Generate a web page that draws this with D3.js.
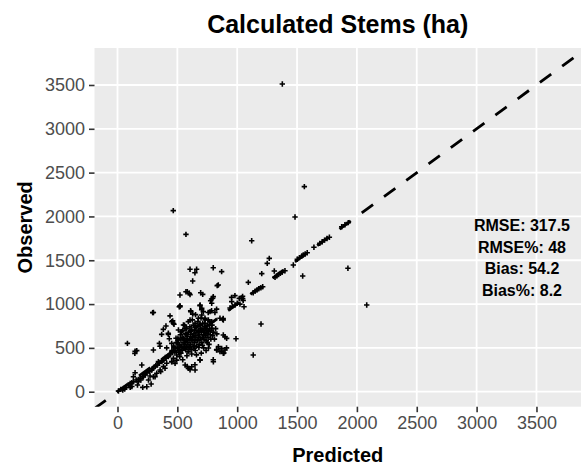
<!DOCTYPE html>
<html>
<head>
<meta charset="utf-8">
<script src="https://cdn.jsdelivr.net/npm/d3@7"></script>
<style>
  body { margin: 0; background: #fff; }
  svg { display: block; font-family: "Liberation Sans", Arial, sans-serif; }
</style>
</head>
<body>
<div id="chart"></div>
<script>
const xTicks = [0, 500, 1000, 1500, 2000, 2500, 3000, 3500];
const yTicks = [0, 500, 1000, 1500, 2000, 2500, 3000, 3500];
const statLines = ['RMSE: 317.5', 'RMSE%: 48', 'Bias: 54.2', 'Bias%: 8.2'];

// [predicted, observed]
const outliers = [
  [1377, 3511], [466, 2066], [572, 1795], [1121, 1722], [1483, 1994], [1561, 2340],
  [1925, 1408], [2082, 990], [1547, 1320], [1469, 1446], [1268, 1522], [1251, 1465],
  [1205, 1347], [1310, 1377], [1093, 1248], [1046, 1061], [1057, 970], [1199, 773],
  [1134, 419], [990, 605]
];
const nearLine = [
  [940, 955], [954, 1028], [960, 975], [982, 990], [1000, 1010], [1023, 1000], [1037, 1070],
  [1050, 1040], [953, 1077], [981, 1096], [1017, 1065], [1045, 1088],
  [1134, 1130], [1150, 1148], [1165, 1160], [1180, 1175], [1198, 1185], [1213, 1198],
  [1316, 1305], [1330, 1322], [1345, 1338], [1360, 1350], [1375, 1362], [1399, 1381],
  [1502, 1511], [1520, 1530], [1540, 1548], [1552, 1560], [1568, 1572], [1585, 1586],
  [1641, 1648], [1690, 1693], [1710, 1712], [1730, 1730], [1750, 1748], [1770, 1762],
  [1873, 1883], [1900, 1905], [1928, 1929]
];
const lowBand = [
  [8, 8], [28, 27], [50, 38], [72, 50], [92, 76], [106, 95], [120, 103], [133, 114],
  [156, 133], [175, 141], [189, 152], [211, 171], [231, 191], [245, 217], [267, 229],
  [286, 248], [300, 267], [314, 286], [334, 305], [350, 324], [370, 343], [384, 362],
  [406, 381], [425, 400], [439, 430], [461, 446], [481, 469], [500, 495], [517, 522],
  [83, 552], [161, 469], [145, 438], [300, 476], [350, 552], [203, 305], [147, 217],
  [133, 171], [217, 171], [195, 133], [175, 114], [281, 88], [245, 57], [211, 50],
  [44, 19], [106, 50], [167, 76], [259, 133], [314, 171], [328, 210], [356, 248],
  [384, 286], [342, 343], [411, 324], [397, 267], [453, 343], [467, 381], [495, 419],
  [453, 552], [489, 610], [425, 667], [509, 591], [361, 229], [300, 171], [272, 179],
  [355, 519], [411, 500], [369, 654], [425, 654], [433, 604], [383, 711], [405, 750],
  [300, 904], [439, 865], [461, 808], [472, 769], [147, 461], [60, 30], [120, 60],
  [230, 205], [260, 240], [290, 262], [320, 300], [345, 330], [375, 355], [400, 390],
  [430, 415], [455, 455]
];
const core = [
  [455, 470], [470, 520], [480, 455], [490, 560], [500, 500], [505, 610], [510, 450],
  [515, 540], [520, 480], [525, 650], [530, 590], [535, 520], [540, 470], [545, 700],
  [548, 560], [552, 610], [556, 500], [560, 760], [563, 540], [567, 660], [570, 480],
  [574, 590], [578, 720], [580, 520], [585, 630], [588, 560], [592, 800], [595, 680],
  [598, 500], [602, 600], [605, 740], [608, 540], [612, 650], [615, 480], [618, 700],
  [622, 580], [625, 820], [628, 620], [632, 520], [635, 760], [638, 660], [642, 560],
  [645, 700], [648, 600], [652, 880], [655, 640], [658, 520], [662, 740], [665, 680],
  [668, 580], [672, 800], [675, 620], [678, 700], [682, 540], [685, 760], [688, 650],
  [692, 600], [695, 720], [698, 840], [702, 680], [705, 560], [708, 620], [712, 780],
  [715, 700], [718, 650], [722, 600], [725, 740], [728, 680], [732, 820], [735, 640],
  [738, 720], [742, 580], [745, 700], [748, 660], [752, 760], [756, 620], [760, 690],
  [765, 540], [770, 720], [775, 650], [780, 600], [785, 700], [790, 760], [795, 640],
  [800, 680], [810, 600], [820, 720], [830, 660], [470, 500], [520, 505], [560, 498],
  [600, 502], [640, 498], [680, 505], [720, 500], [760, 498], [540, 620], [575, 650],
  [610, 690], [650, 730], [690, 770], [730, 780], [770, 800], [530, 440], [590, 455],
  [650, 470], [710, 530], [750, 560], [500, 560], [560, 590]
];
const coreLow = [
  [520, 400], [545, 365], [565, 305], [592, 266], [620, 285], [648, 247], [606, 250],
  [583, 288], [647, 308], [690, 361], [801, 342], [689, 365], [800, 365], [828, 480],
  [870, 461], [889, 442], [911, 500], [829, 476], [856, 457], [884, 438], [898, 476],
  [843, 514], [870, 495], [453, 342], [481, 323], [495, 361], [660, 420], [700, 440],
  [740, 470], [620, 430], [580, 410]
];
const coreHigh = [
  [612, 914], [690, 990], [704, 952], [717, 914], [773, 914], [787, 1009], [453, 800],
  [467, 781], [551, 761], [606, 819], [648, 781], [676, 838], [704, 876], [731, 838],
  [759, 819], [787, 800], [856, 838], [884, 819], [509, 704], [537, 685], [565, 723],
  [620, 704], [676, 685], [704, 704], [759, 685], [787, 723], [884, 647], [912, 609],
  [898, 628], [611, 923], [628, 885], [689, 981], [703, 935], [758, 904], [786, 923],
  [828, 942], [814, 904], [883, 835], [523, 971], [606, 1397], [661, 1397], [647, 1358],
  [628, 1263], [572, 1141], [600, 1123], [522, 1103], [695, 1130], [712, 1111],
  [842, 1218], [795, 1066], [778, 1038], [516, 970], [294, 902], [800, 1415], [870, 1370],
  [833, 1211], [583, 1142], [606, 1108], [786, 1058], [800, 1085], [879, 826], [522, 981]
];
const points = [...outliers, ...nearLine, ...lowBand, ...core, ...coreLow, ...coreHigh];

const W = 581, H = 467;
const m = { left: 94.5, right: 0, top: 48, bottom: 60.3 };

const svg = d3.select('#chart').append('svg').attr('width', W).attr('height', H);

const x = d3.scaleLinear().domain([-192, 3872]).range([m.left, W - m.right]);
const y = d3.scaleLinear().domain([-171, 3922]).range([H - m.bottom, m.top]);

svg.append('defs').append('clipPath').attr('id', 'clip')
  .append('rect')
  .attr('x', m.left).attr('y', m.top)
  .attr('width', W - m.right - m.left).attr('height', H - m.bottom - m.top);

svg.append('rect')
  .attr('x', m.left).attr('y', m.top)
  .attr('width', W - m.right - m.left).attr('height', H - m.bottom - m.top)
  .attr('fill', '#ebebeb');

const grid = svg.append('g').attr('stroke', '#fff').attr('stroke-width', 1.8);
grid.selectAll('.gx').data(xTicks).join('line')
  .attr('x1', d => x(d)).attr('x2', d => x(d))
  .attr('y1', m.top).attr('y2', H - m.bottom);
grid.selectAll('.gy').data(yTicks).join('line')
  .attr('y1', d => y(d)).attr('y2', d => y(d))
  .attr('x1', m.left).attr('x2', W - m.right);

const plot = svg.append('g').attr('clip-path', 'url(#clip)');

plot.append('line')
  .attr('x1', x(-192)).attr('y1', y(-192))
  .attr('x2', x(3872)).attr('y2', y(3872))
  .attr('stroke', '#000').attr('stroke-width', 2.8)
  .attr('stroke-dasharray', '14 13.6');

plot.append('g').selectAll('path').data(points).join('path')
  .attr('transform', d => `translate(${x(d[0])},${y(d[1])})`)
  .attr('d', 'M-2.7,0H2.7M0,-2.7V2.7')
  .attr('stroke', '#000').attr('stroke-width', 1.6).attr('fill', 'none');

const xAxis = svg.append('g')
  .attr('transform', `translate(0,${H - m.bottom})`)
  .call(d3.axisBottom(x).tickValues(xTicks).tickSize(5.5).tickPadding(4).tickFormat(d3.format('d')));
const yAxis = svg.append('g')
  .attr('transform', `translate(${m.left},0)`)
  .call(d3.axisLeft(y).tickValues(yTicks).tickSize(5.5).tickPadding(4).tickFormat(d3.format('d')));

[xAxis, yAxis].forEach(a => {
  a.select('.domain').remove();
  a.selectAll('line').attr('stroke', '#333').attr('stroke-width', 1.6);
  a.selectAll('text').attr('fill', '#4d4d4d')
    .style('font-family', '"Liberation Sans", Arial, sans-serif').style('font-size', '18px');
});

svg.append('text')
  .attr('x', (m.left + W - m.right) / 2).attr('y', 33)
  .attr('text-anchor', 'middle')
  .style('font-size', '25px').style('font-weight', 'bold')
  .text('Calculated Stems (ha)');

svg.append('text')
  .attr('x', (m.left + W - m.right) / 2).attr('y', 462)
  .attr('text-anchor', 'middle')
  .style('font-size', '20px').style('font-weight', 'bold')
  .text('Predicted');

svg.append('text')
  .attr('transform', `translate(32,${(m.top + H - m.bottom) / 2}) rotate(-90)`)
  .attr('text-anchor', 'middle')
  .style('font-size', '20px').style('font-weight', 'bold')
  .text('Observed');

svg.append('g').selectAll('text').data(statLines).join('text')
  .attr('x', 522).attr('y', (d, i) => 231 + i * 21.7)
  .attr('text-anchor', 'middle')
  .style('font-size', '16px').style('font-weight', 'bold')
  .text(d => d);
</script>
</body>
</html>
